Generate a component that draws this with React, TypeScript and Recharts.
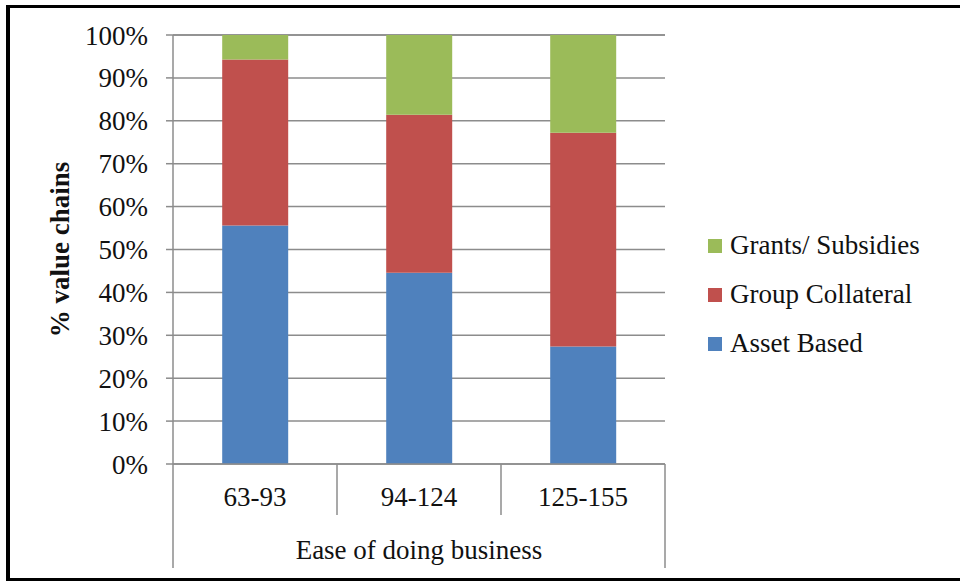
import React from 'react';
import { BarChart, Bar, XAxis, YAxis, CartesianGrid, Legend } from 'recharts';

const categories = ['63-93', '94-124', '125-155'];
const assetBased = [55.6, 44.6, 27.4];
const groupCollateral = [38.7, 36.8, 49.8];
const grantsSubsidies = [5.7, 18.6, 22.8];
const yTicks = [0, 10, 20, 30, 40, 50, 60, 70, 80, 90, 100];
const seriesNames = ['Asset Based', 'Group Collateral', 'Grants/ Subsidies'];
const seriesColors = ['#4F81BD', '#C0504D', '#9BBB59'];
const xAxisTitle = 'Ease of doing business';
const yAxisTitle = '% value chains';

const data = categories.map((c, i) => ({
  name: c,
  asset: assetBased[i],
  group: groupCollateral[i],
  grants: grantsSubsidies[i],
}));

const W = 960;
const H = 581;
const MARGIN = { top: 35, right: 295, left: 0, bottom: 0 };
const Y_AXIS_W = 173;
const X_AXIS_H = 117;
const PLOT_W = W - MARGIN.left - MARGIN.right - Y_AXIS_W;
const GRID = '#8C8C8C';
const FONT = '"Liberation Serif", "Times New Roman", serif';
const FS = 27;

const CategoryTick = (props: any) => {
  const { x, y, payload, index } = props;
  const n = categories.length;
  const bw = PLOT_W / n;
  const left = x - bw / 2;
  const right = x + bw / 2;
  return (
    <g>
      <line x1={right} x2={right} y1={y} y2={index === n - 1 ? y + 104 : y + 51} stroke={GRID} strokeWidth={1.5} />
      {index === 0 && <line x1={left} x2={left} y1={y} y2={y + 104} stroke={GRID} strokeWidth={1.5} />}
      <text x={x} y={y + 33} textAnchor="middle" dominantBaseline="central" fontFamily={FONT} fontSize={FS} fill="#111">
        {payload.value}
      </text>
      {index === 0 && (
        <text x={left + PLOT_W / 2} y={y + 86} textAnchor="middle" dominantBaseline="central" fontFamily={FONT} fontSize={FS} fill="#111">
          {xAxisTitle}
        </text>
      )}
    </g>
  );
};

const YTitle = (props: any) => {
  const vb = props.viewBox || { x: 0, y: 35, width: 173, height: 429 };
  const cx = vb.x + 60;
  const cy = vb.y + vb.height / 2;
  return (
    <text x={cx} y={cy} transform={`rotate(-90 ${cx} ${cy})`} textAnchor="middle" dominantBaseline="central" fontFamily={FONT} fontSize={FS} fontWeight="bold" fill="#111">
      {yAxisTitle}
    </text>
  );
};

const renderLegend = () => {
  const items = seriesNames.map((n, i) => ({ n, c: seriesColors[i] })).reverse();
  return (
    <div style={{ whiteSpace: 'nowrap', fontFamily: FONT, fontSize: FS, color: '#111', width: 260 }}>
      {items.map((it) => (
        <div key={it.n} style={{ display: 'flex', alignItems: 'center', height: 49 }}>
          <svg width={14} height={14} style={{ flexShrink: 0, marginRight: 8 }}>
            <rect x={0} y={0} width={14} height={14} fill={it.c} />
          </svg>
          <span style={{ flexShrink: 0 }}>{it.n}</span>
        </div>
      ))}
    </div>
  );
};

export default function App() {
  return (
    <div style={{ position: 'absolute', left: 0, top: 0, width: W, height: H, background: '#fff' }}>
      <div
        style={{
          position: 'absolute',
          left: 6,
          top: 5,
          width: W - 6,
          height: H - 5,
          boxSizing: 'border-box',
          borderTop: '3px solid #000',
          borderLeft: '4px solid #000',
          borderBottom: '3px solid #000',
        }}
      />
      <div style={{ position: 'absolute', left: 0, top: 0 }}>
        <BarChart width={W} height={H} data={data} margin={MARGIN} barCategoryGap="30%">
          <CartesianGrid horizontal vertical={false} stroke={GRID} strokeWidth={1.5} />
          <XAxis
            dataKey="name"
            height={X_AXIS_H}
            axisLine={{ stroke: GRID, strokeWidth: 1.5 }}
            tickLine={false}
            tickSize={0}
            tickMargin={0}
            tick={<CategoryTick />}
            interval={0}
          />
          <YAxis
            width={Y_AXIS_W}
            domain={[0, 100]}
            ticks={yTicks}
            interval={0}
            tickFormatter={(v: number) => `${v}%`}
            axisLine={{ stroke: GRID, strokeWidth: 1.5 }}
            tickLine={{ stroke: GRID, strokeWidth: 1.5 }}
            tickSize={7}
            tickMargin={18}
            tick={{ fontFamily: FONT, fontSize: FS, fill: '#111' }}
            label={<YTitle />}
          />
          <Legend
            content={renderLegend}
            wrapperStyle={{ position: 'absolute', left: 708, top: 221, width: 0, height: 0, overflow: 'visible' }}
          />
          <Bar dataKey="asset" name={seriesNames[0]} stackId="a" fill={seriesColors[0]} isAnimationActive={false} />
          <Bar dataKey="group" name={seriesNames[1]} stackId="a" fill={seriesColors[1]} isAnimationActive={false} />
          <Bar dataKey="grants" name={seriesNames[2]} stackId="a" fill={seriesColors[2]} isAnimationActive={false} />
        </BarChart>
      </div>
    </div>
  );
}
